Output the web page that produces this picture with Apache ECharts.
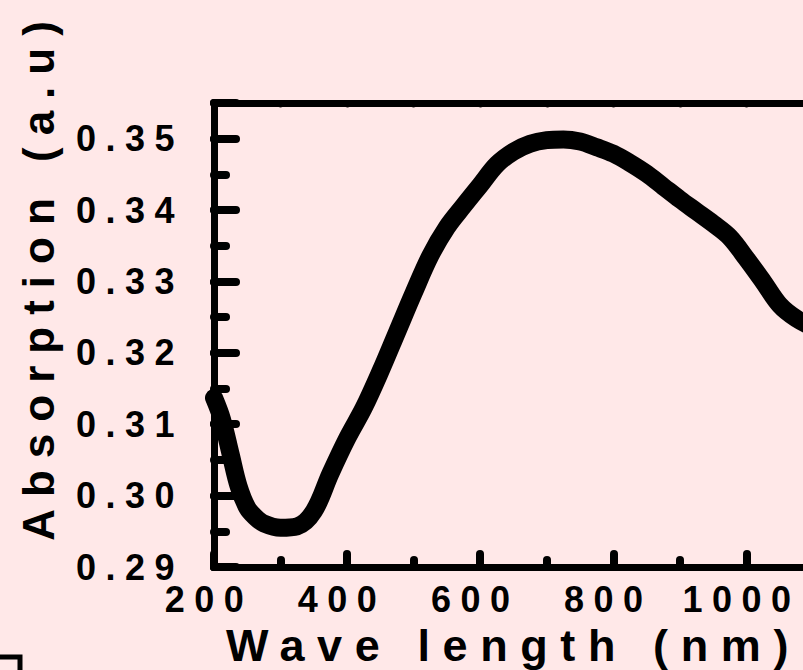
<!DOCTYPE html>
<html>
<head>
<meta charset="utf-8">
<style>
html,body{margin:0;padding:0;background:#ffe8e8;}
#chart{width:803px;height:670px;}
#chart svg text{letter-spacing:10px;}
#chart svg text[style*="36px"]{letter-spacing:9.5px;}
#chart svg text[style*="44px"]{letter-spacing:12px;}
#chart svg text[style*="45px"]{letter-spacing:12.6px;}
</style>
<script src="https://cdn.jsdelivr.net/npm/echarts@6/dist/echarts.min.js"></script>
</head>
<body>
<div id="chart"></div>
<script>
// ---- data ----
const wavelength = [200, 212, 225, 237, 250, 262, 275, 300, 325, 350, 375, 400, 425, 450, 475, 500, 525, 550, 575, 600, 625, 650, 675, 700, 725, 750, 775, 800, 825, 850, 875, 900, 925, 950, 975, 1000, 1025, 1050, 1075, 1100];
const absorption = [0.3137, 0.3107, 0.3058, 0.3013, 0.2983, 0.2970, 0.2961, 0.2955, 0.2957, 0.2978, 0.3031, 0.3080, 0.3123, 0.3174, 0.3229, 0.3284, 0.3336, 0.3376, 0.3406, 0.3435, 0.3464, 0.3482, 0.3493, 0.3498, 0.3499, 0.3496, 0.3488, 0.3479, 0.3466, 0.3451, 0.3433, 0.3415, 0.3398, 0.3381, 0.3362, 0.3332, 0.3300, 0.3267, 0.3248, 0.3236];
const xTickLabels = ['200', '400', '600', '800', '1000'];
const yTickLabels = ['0.29', '0.30', '0.31', '0.32', '0.33', '0.34', '0.35'];
const xTitle = 'Wave length (nm)';
const yTitle = 'Absorption (a.u)';

const FONT = 'Liberation Sans, Arial, sans-serif';
const seriesData = wavelength.map((w, i) => [w, absorption[i]]);

const chart = echarts.init(document.getElementById('chart'), null, {renderer: 'svg'});
const X_MIN = 200, X_MAX = 1100, Y_MIN = 0.29, Y_MAX = 0.355;

const labelStyle = {color: '#000', fontSize: 36, fontWeight: 'bold', fontFamily: FONT};

chart.setOption({
  backgroundColor: '#ffe8e8',
  animation: false,
  grid: {left: 214, top: 103, width: 599, height: 464, outerBoundsMode: 'none', containLabel: false},
  xAxis: [
    {
      type: 'value', position: 'bottom', min: X_MIN, max: X_MAX, interval: 200,
      axisLine: {show: true, lineStyle: {color: '#000', width: 7, cap: 'round'}},
      axisTick: {show: true, inside: true, length: 13, lineStyle: {color: '#000', width: 8, cap: 'round'}},
      axisLabel: Object.assign({
        margin: 14, padding: [0, 10, 0, 0],
        formatter: v => { const s = String(Math.round(v)); return xTickLabels.includes(s) ? s : ''; }
      }, labelStyle),
      splitLine: {show: false},
      name: xTitle, nameLocation: 'middle', nameGap: 56,
      nameTextStyle: {color: '#000', fontSize: 45, fontWeight: 'bold', fontFamily: FONT}
    },
    {
      type: 'value', position: 'bottom', min: X_MIN, max: X_MAX, interval: 100,
      axisLine: {show: false},
      axisTick: {show: true, inside: true, length: 7, lineStyle: {color: '#000', width: 8, cap: 'round'}},
      axisLabel: {show: false}, splitLine: {show: false}
    },
    {
      type: 'value', position: 'top', min: X_MIN, max: X_MAX, interval: 100,
      axisLine: {show: true, lineStyle: {color: '#000', width: 7, cap: 'round'}},
      axisTick: {show: true, inside: true, length: 2, lineStyle: {color: '#000', width: 5, cap: 'round'}},
      axisLabel: {show: false}, splitLine: {show: false}
    }
  ],
  yAxis: [
    {
      type: 'value', position: 'left', min: Y_MIN, max: Y_MAX, interval: 0.01,
      axisLine: {show: true, lineStyle: {color: '#000', width: 7, cap: 'round'}},
      axisTick: {show: true, inside: true, length: 22, lineStyle: {color: '#000', width: 8, cap: 'round'}},
      axisLabel: Object.assign({
        margin: 30,
        formatter: v => { const s = v.toFixed(2); return (yTickLabels.includes(s) && Math.abs(v - parseFloat(s)) < 1e-6) ? s : ''; }
      }, labelStyle),
      splitLine: {show: false},
      name: yTitle, nameLocation: 'middle', nameRotate: 90, nameGap: 154,
      nameTextStyle: {color: '#000', fontSize: 44, fontWeight: 'bold', fontFamily: FONT, padding: [0, 0, 0, 120]}
    },
    {
      type: 'value', position: 'left', min: Y_MIN, max: Y_MAX, interval: 0.005,
      axisLine: {show: false},
      axisTick: {show: true, inside: true, length: 12, lineStyle: {color: '#000', width: 8, cap: 'round'}},
      axisLabel: {show: false}, splitLine: {show: false}
    }
  ],
  series: [{
    type: 'line', xAxisIndex: 0, yAxisIndex: 0,
    data: seriesData, symbol: 'none', smooth: 0.35, clip: true,
    lineStyle: {color: '#000', width: 18, cap: 'round', join: 'round'},
    z: 5
  }],
  graphic: [{
    type: 'polyline', silent: true,
    shape: {points: [[-5, 657], [20, 657], [20, 675]]},
    style: {stroke: '#000', lineWidth: 5, fill: null}
  }]
});
</script>
</body>
</html>
